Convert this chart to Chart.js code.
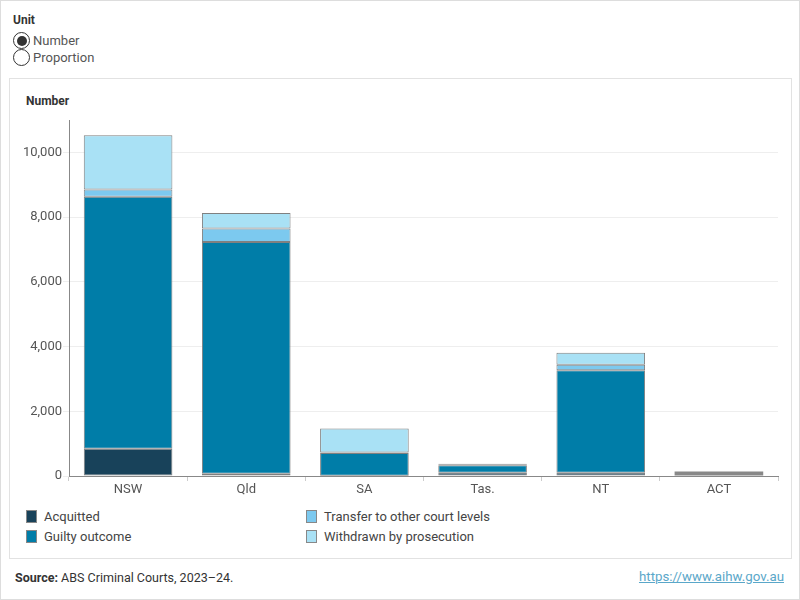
<!DOCTYPE html>
<html>
<head>
<meta charset="utf-8">
<script src="https://cdn.jsdelivr.net/npm/chart.js@4.4.1/dist/chart.umd.min.js"></script>
<style>
  body{margin:0;width:800px;height:600px;font-family:Roboto,"Noto Sans",sans-serif;color:#333;background:#fff;}
  .page{position:absolute;left:0;top:0;width:798px;height:598px;border:1px solid #ddd;}
  .unit{position:absolute;left:13px;top:13px;font-size:12px;font-weight:bold;color:#333;}
  .radio{position:absolute;left:13px;font-size:13px;color:#555;display:flex;align-items:center;height:17px;}
  .radio .c{width:17px;height:17px;border:1px solid #333;border-radius:50%;box-sizing:border-box;margin-right:3px;position:relative;background:#fff;}
  .radio .c.on::after{content:"";position:absolute;left:2.5px;top:2.5px;width:10px;height:10px;border-radius:50%;background:#333;}
  .card{position:absolute;left:9px;top:78px;width:781px;height:479px;border:1px solid #e2e2e2;}
  .ytitle{position:absolute;left:26px;top:94px;font-size:12px;font-weight:bold;color:#333;}
  #wrap{position:absolute;left:10px;top:110px;width:780px;height:395px;}
  .legend{position:absolute;left:26px;top:508px;width:600px;display:grid;grid-template-columns:280px 300px;row-gap:4px;font-size:13px;color:#444;}
  .legend div{display:flex;align-items:center;height:16px;}
  .legend span.b{width:11px;height:13px;border:1px solid #888;box-sizing:border-box;margin-right:7px;}
  .src{position:absolute;left:15px;top:570px;font-size:12.5px;color:#333;}
  .link{position:absolute;right:16px;top:569px;font-size:13.3px;color:#5aa7c9;text-decoration:underline;}
</style>
</head>
<body>
<div class="page"></div>
<div class="unit">Unit</div>
<div class="radio" style="top:32px"><span class="c on"></span>Number</div>
<div class="radio" style="top:49px"><span class="c"></span>Proportion</div>
<div class="card"></div>
<div class="ytitle">Number</div>
<div id="wrap"><canvas id="chart"></canvas></div>
<div class="legend" id="legend"></div>
<div class="src"><b>Source:</b> ABS Criminal Courts, 2023–24.</div>
<div class="link">https://www.aihw.gov.au</div>
<script>
// data
const states=['NSW','Qld','SA','Tas.','NT','ACT'];
const acquitted=[840,70,10,100,100,null];
const guilty=[7790,7160,700,235,3170,null];
const transfer=[225,415,15,10,165,null];
const withdrawn=[1670,480,740,30,370,null];
const actTotal=[null,null,null,null,null,140];
const yTicks=[0,2000,4000,6000,8000,10000];

const series=[
  {label:'Acquitted',data:acquitted,color:'#18425a'},
  {label:'Guilty outcome',data:guilty,color:'#007da8'},
  {label:'Transfer to other court levels',data:transfer,color:'#7cc9ef'},
  {label:'Withdrawn by prosecution',data:withdrawn,color:'#a9e1f5'}
];

const datasets=series.map(s=>({
  label:s.label,data:s.data,backgroundColor:s.color,
  borderColor:'#808080',borderWidth:1,borderSkipped:false,
  categoryPercentage:1,barPercentage:0.75
}));
datasets.push({label:'ACT',data:actTotal,backgroundColor:'#888',borderWidth:0,categoryPercentage:1,barPercentage:0.75});

// legenda html (2 kolom)
const order=[0,2,1,3];
document.getElementById('legend').innerHTML=order.map(i=>
  `<div><span class="b" style="background:${series[i].color}"></span>${series[i].label}</div>`).join('');

new Chart(document.getElementById('chart'),{
  type:'bar',
  data:{labels:states,datasets},
  options:{
    responsive:true,maintainAspectRatio:false,animation:false,
    layout:{padding:{top:10,right:12,left:0,bottom:0}},
    plugins:{legend:{display:false},tooltip:{enabled:false}},
    scales:{
      x:{
        stacked:true,
        grid:{display:true,drawOnChartArea:false,offset:true,color:'#ccc',tickLength:5},
        border:{color:'#888'},
        ticks:{color:'#555',font:{size:13,family:'Roboto'},padding:1},
        afterFit:s=>{s.height=29;}
      },
      y:{
        stacked:true,min:0,max:11000,
        grid:{color:'#eeeeee',tickLength:6},
        border:{color:'#888'},
        ticks:{color:'#555',font:{size:13,family:'Roboto'},padding:1,
          callback:v=>v.toLocaleString('en-US')},
        afterBuildTicks:s=>{s.ticks=yTicks.map(v=>({value:v}));},
        afterFit:s=>{s.width=59;}
      }
    }
  }
});
</script>
</body>
</html>
